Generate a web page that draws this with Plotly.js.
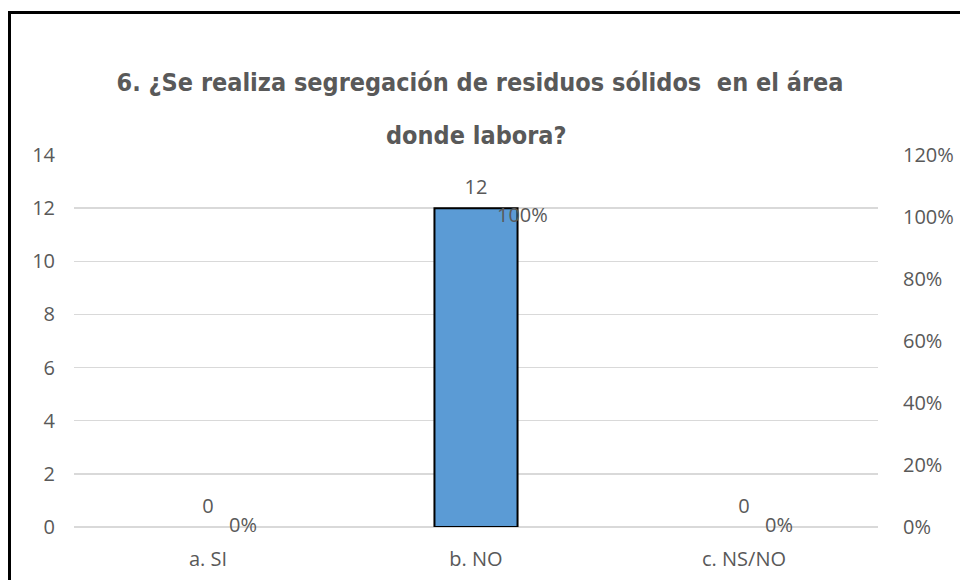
<!DOCTYPE html>
<html>
<head>
<meta charset="utf-8">
<script src="https://cdn.plot.ly/plotly-3.0.1.min.js"></script>
<style>
  html, body { margin: 0; padding: 0; background: #fff; }
  #wrap { position: relative; width: 960px; height: 580px; overflow: hidden; }
  #frame { position: absolute; left: 8px; top: 11px; width: 1000px; height: 700px; border: 3px solid #000; box-sizing: border-box; pointer-events: none; }
  #chart { position: absolute; left: 0; top: 0; width: 960px; height: 580px; }
</style>
</head>
<body>
<div id="wrap">
  <div id="chart"></div>
  <div id="frame"></div>
</div>
<script>
const categories = ["a. SI", "b. NO", "c. NS/NO"];
const counts = [0, 12, 0];
const percents = [0, 1, 0];
const countLabels = ["0", "12", "0"];
const percentLabels = ["0%", "100%", "0%"];
const titleLine1 = "6. ¿Se realiza segregación de residuos sólidos  en el área";
const titleLine2 = "donde labora?";

const tickFont = { family: "Open Sans, sans-serif", size: 20, color: "#595959" };
const titleFont = { family: "DejaVu Sans Condensed, DejaVu Sans, sans-serif", size: 25, color: "#595959", weight: "bold" };

const traces = [
  {
    type: "bar",
    x: categories,
    y: counts,
    width: 0.31,
    marker: { color: "#5B9BD5", line: { color: "#000000", width: counts.map(v => v > 0 ? 2 : 0) } },
    hoverinfo: "skip",
    showlegend: false
  },
  {
    type: "scatter",
    mode: "markers+text",
    x: categories,
    y: counts,
    text: countLabels,
    textposition: "top center",
    textfont: tickFont,
    marker: { size: 13, opacity: 0 },
    cliponaxis: false,
    hoverinfo: "skip",
    showlegend: false
  },
  {
    type: "scatter",
    mode: "markers+text",
    x: categories,
    y: percents,
    yaxis: "y2",
    text: percentLabels,
    textposition: "middle right",
    textfont: tickFont,
    marker: { size: 32, opacity: 0 },
    cliponaxis: false,
    hoverinfo: "skip",
    showlegend: false
  }
];

const layout = {
  width: 960,
  height: 580,
  margin: { l: 74, r: 82, t: 155, b: 53 },
  paper_bgcolor: "rgba(0,0,0,0)",
  plot_bgcolor: "rgba(0,0,0,0)",
  title: {
    text: titleLine1,
    x: 0.5,
    xanchor: "center",
    y: 1 - 82 / 580,
    yanchor: "middle",
    font: titleFont
  },
  annotations: [
    {
      text: titleLine2,
      xref: "paper",
      yref: "paper",
      x: 0.5,
      y: (527 - 135) / 372,
      xanchor: "center",
      yanchor: "middle",
      showarrow: false,
      font: titleFont
    }
  ],
  xaxis: {
    type: "category",
    showgrid: false,
    zeroline: false,
    showline: false,
    ticks: "",
    tickfont: tickFont,
    ticklabelstandoff: 18
  },
  yaxis: {
    range: [0, 14],
    dtick: 2,
    tick0: 0,
    showgrid: true,
    gridcolor: "#D9D9D9",
    gridwidth: 1.5,
    zeroline: true,
    zerolinecolor: "#D9D9D9",
    zerolinewidth: 1.5,
    showline: false,
    ticks: "",
    tickfont: tickFont,
    ticklabelstandoff: 18
  },
  yaxis2: {
    overlaying: "y",
    side: "right",
    range: [0, 1.2],
    dtick: 0.2,
    tick0: 0,
    tickformat: ".0%",
    showgrid: false,
    zeroline: false,
    showline: false,
    ticks: "",
    tickfont: tickFont,
    ticklabelstandoff: 24
  },
  showlegend: false
};

Plotly.newPlot("chart", traces, layout, { displayModeBar: false, staticPlot: true });
</script>
</body>
</html>
